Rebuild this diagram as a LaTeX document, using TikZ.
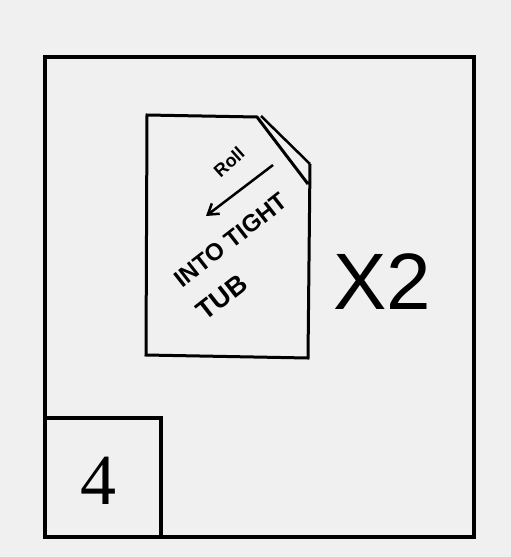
\documentclass[tikz,border=0pt]{standalone}
\usepackage{fontspec}
\usetikzlibrary{arrows.meta}
\newfontfamily\hand{Liberation Sans}
\newfontfamily\numf{Liberation Serif}
\begin{document}
\begin{tikzpicture}[x=1pt,y=-1pt,
  outer/.style={line width=4pt},
  inner/.style={line width=3pt,line join=miter},
  lbl/.style={font=\hand, inner sep=0pt}]
\useasboundingbox[fill=black!6] (0,0) rectangle (511,557);
% outer frame
\draw[outer] (45,57) rectangle (474,537);
% small box with 4
\draw[outer] (45,418) rectangle (161,537);
\node[inner sep=0pt, font=\numf\fontsize{72}{72}\selectfont] (four) at (98,481) {4};
% inner sheet with folded corner
\coordinate (tl) at (147,115);
\coordinate (c1) at (257,117);
\coordinate (c2) at (308,184);
\coordinate (c3) at (310,164);
\coordinate (br) at (308,358);
\coordinate (bl) at (146,355);
\draw[inner] (c3) -- (br) -- (bl) -- (tl) -- (c1) -- (c2);
\draw[line width=2.5pt] (261,116) -- (c3);
% arrow
\coordinate (as) at (273,165);
\coordinate (ae) at (206,216);
\draw[line width=2.5pt,-{Straight Barb[length=10pt,width=13pt]}] (as) -- (ae);
\node[lbl, rotate=42, font=\hand\bfseries\fontsize{18}{18}\selectfont] (roll) at (229,162) {Roll};
\node[lbl, rotate=38, font=\hand\bfseries\fontsize{24}{24}\selectfont] (into) at (231,240) {INTO TIGHT};
\node[lbl, rotate=38, font=\hand\bfseries\fontsize{27}{27}\selectfont] (tub) at (222,297) {TUB};
\node[lbl, font=\hand\fontsize{80}{80}\selectfont] (x2) at (382,282) {X2};
\end{tikzpicture}
\end{document}
